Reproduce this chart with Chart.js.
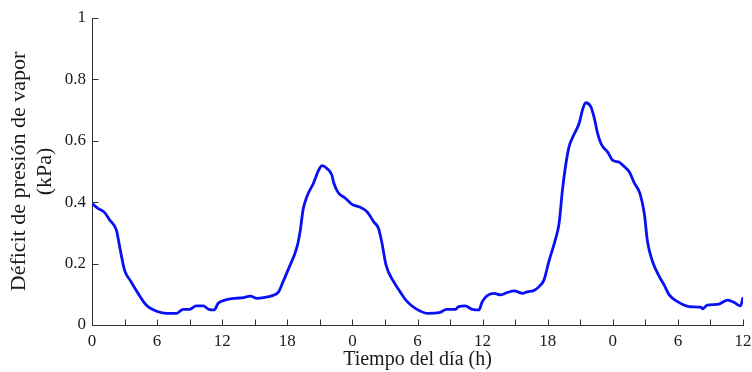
<!DOCTYPE html>
<html>
<head>
<meta charset="utf-8">
<script src="https://cdn.jsdelivr.net/npm/chart.js@4/dist/chart.umd.min.js"></script>
<style>
html,body{margin:0;padding:0;background:#fff;}
#wrap{width:752px;height:372px;position:relative;}
</style>
</head>
<body>
<div id="wrap"><canvas id="c" width="752" height="372"></canvas></div>
<script>
// Hours elapsed since start (0..60 h, three days)
const hours = [0,0.55,1.17,1.63,2.25,2.55,3.0,3.6,4.25,5.0,6.1,6.86,7.8,8.4,9.0,9.6,10.25,10.77,11.26,11.63,12.25,13.2,13.95,14.6,15.2,15.9,16.55,17.2,17.6,18.1,18.9,19.2,19.45,19.8,20.4,20.9,21.2,21.65,22.1,22.3,22.7,23.35,23.97,24.6,25.35,25.97,26.4,26.7,27.1,27.8,28.4,29.05,29.8,30.9,32.0,32.7,33.5,33.8,34.4,35.05,35.66,35.97,36.4,37.05,37.66,38.3,38.9,39.7,40.1,40.7,41.2,41.66,42.1,42.7,43.05,43.36,43.66,43.97,44.4,44.9,45.2,45.5,45.97,46.3,46.6,46.9,47.2,47.5,47.97,48.6,49.05,49.5,50.0,50.5,50.9,51.2,51.67,52.3,52.74,53.2,53.97,55.04,56.1,56.3,56.7,57.66,58.6,59.2,59.77,60.0];
// Vapour pressure deficit (kPa)
const vpd = [0.396,0.38,0.366,0.342,0.309,0.255,0.179,0.141,0.103,0.065,0.043,0.038,0.038,0.051,0.051,0.062,0.062,0.051,0.049,0.071,0.081,0.087,0.089,0.094,0.087,0.09,0.095,0.108,0.14,0.182,0.255,0.309,0.375,0.418,0.461,0.505,0.519,0.510,0.489,0.461,0.431,0.413,0.393,0.385,0.369,0.336,0.315,0.271,0.195,0.141,0.108,0.076,0.054,0.038,0.04,0.051,0.051,0.06,0.062,0.051,0.049,0.076,0.095,0.103,0.098,0.106,0.111,0.103,0.108,0.112,0.125,0.147,0.206,0.277,0.331,0.44,0.521,0.581,0.619,0.657,0.70,0.724,0.711,0.673,0.624,0.592,0.575,0.565,0.537,0.53,0.516,0.5,0.461,0.429,0.364,0.271,0.206,0.157,0.13,0.098,0.076,0.06,0.058,0.053,0.065,0.067,0.081,0.073,0.062,0.09];
// Tick positions and labels
const xTickValues = [0,6,12,18,24,30,36,42,48,54,60];
const xTickLabels = ['0','6','12','18','0','6','12','18','0','6','12'];
const xMinorTicks = [0,3,6,9,12,15,18,21,24,27,30,33,36,39,42,45,48,51,54,57,60];
const yTickValues = [0,0.2,0.4,0.6,0.8,1];
const yTickLabels = ['0','0.2','0.4','0.6','0.8','1'];

const FONT = "'Liberation Serif', 'Times New Roman', serif";
const AXIS = '#333333';
const TEXT = '#1a1a1a';

const innerTicks = {
  id: 'innerTicks',
  afterDraw(chart) {
    const ctx = chart.ctx, xs = chart.scales.x, ys = chart.scales.y;
    const L = 6;
    ctx.save();
    ctx.strokeStyle = AXIS;
    ctx.lineWidth = 1;
    ctx.beginPath();
    const bottom = Math.round(ys.getPixelForValue(0)) + 0.5;
    const left = Math.round(xs.getPixelForValue(0)) + 0.5;
    xMinorTicks.forEach(v => {
      const px = Math.round(xs.getPixelForValue(v)) + 0.5;
      ctx.moveTo(px, bottom); ctx.lineTo(px, bottom - L);
    });
    yTickValues.forEach(v => {
      const py = Math.round(ys.getPixelForValue(v)) + 0.5;
      ctx.moveTo(left, py); ctx.lineTo(left + L, py);
    });
    ctx.stroke();
    ctx.restore();
  }
};

new Chart(document.getElementById('c'), {
  type: 'line',
  data: {
    datasets: [{
      data: hours.map((h, i) => ({x: h, y: vpd[i]})),
      borderColor: '#0a10f5',
      borderWidth: 2.8,
      pointRadius: 0,
      cubicInterpolationMode: 'monotone',
      fill: false
    }]
  },
  options: {
    responsive: false,
    animation: false,
    layout: {padding: {left: 0, right: 0, top: 18, bottom: 0}},
    plugins: {legend: {display: false}, tooltip: {enabled: false}},
    scales: {
      x: {
        type: 'linear', min: 0, max: 60,
        afterBuildTicks: s => { s.ticks = xTickValues.map(v => ({value: v})); },
        ticks: {
          autoSkip: false, maxRotation: 0, padding: 6,
          color: TEXT, font: {family: FONT, size: 17},
          callback: (v, i) => xTickLabels[i]
        },
        grid: {display: true, drawOnChartArea: false, drawTicks: false},
        border: {display: true, color: AXIS, width: 1},
        title: {display: true, text: 'Tiempo del día (h)', color: TEXT, font: {family: FONT, size: 20}, padding: {top: 0, bottom: 0}},
        afterFit: s => { s.height = 47; s.paddingLeft = 0; s.paddingRight = 9; }
      },
      y: {
        type: 'linear', min: 0, max: 1,
        afterBuildTicks: s => { s.ticks = yTickValues.map(v => ({value: v})); },
        ticks: {
          autoSkip: false, padding: 6,
          color: TEXT, font: {family: FONT, size: 17},
          callback: (v, i) => yTickLabels[i]
        },
        grid: {display: true, drawOnChartArea: false, drawTicks: false},
        border: {display: true, color: AXIS, width: 1},
        title: {display: true, text: ['Déficit de presión de vapor', '(kPa)'], color: TEXT, font: {family: FONT, size: 22, lineHeight: 1.15}, padding: {top: 7, bottom: 0}},
        afterFit: s => { s.width = 92; s.paddingTop = 0; s.paddingBottom = 0; }
      }
    }
  },
  plugins: [innerTicks]
});
</script>
</body>
</html>
